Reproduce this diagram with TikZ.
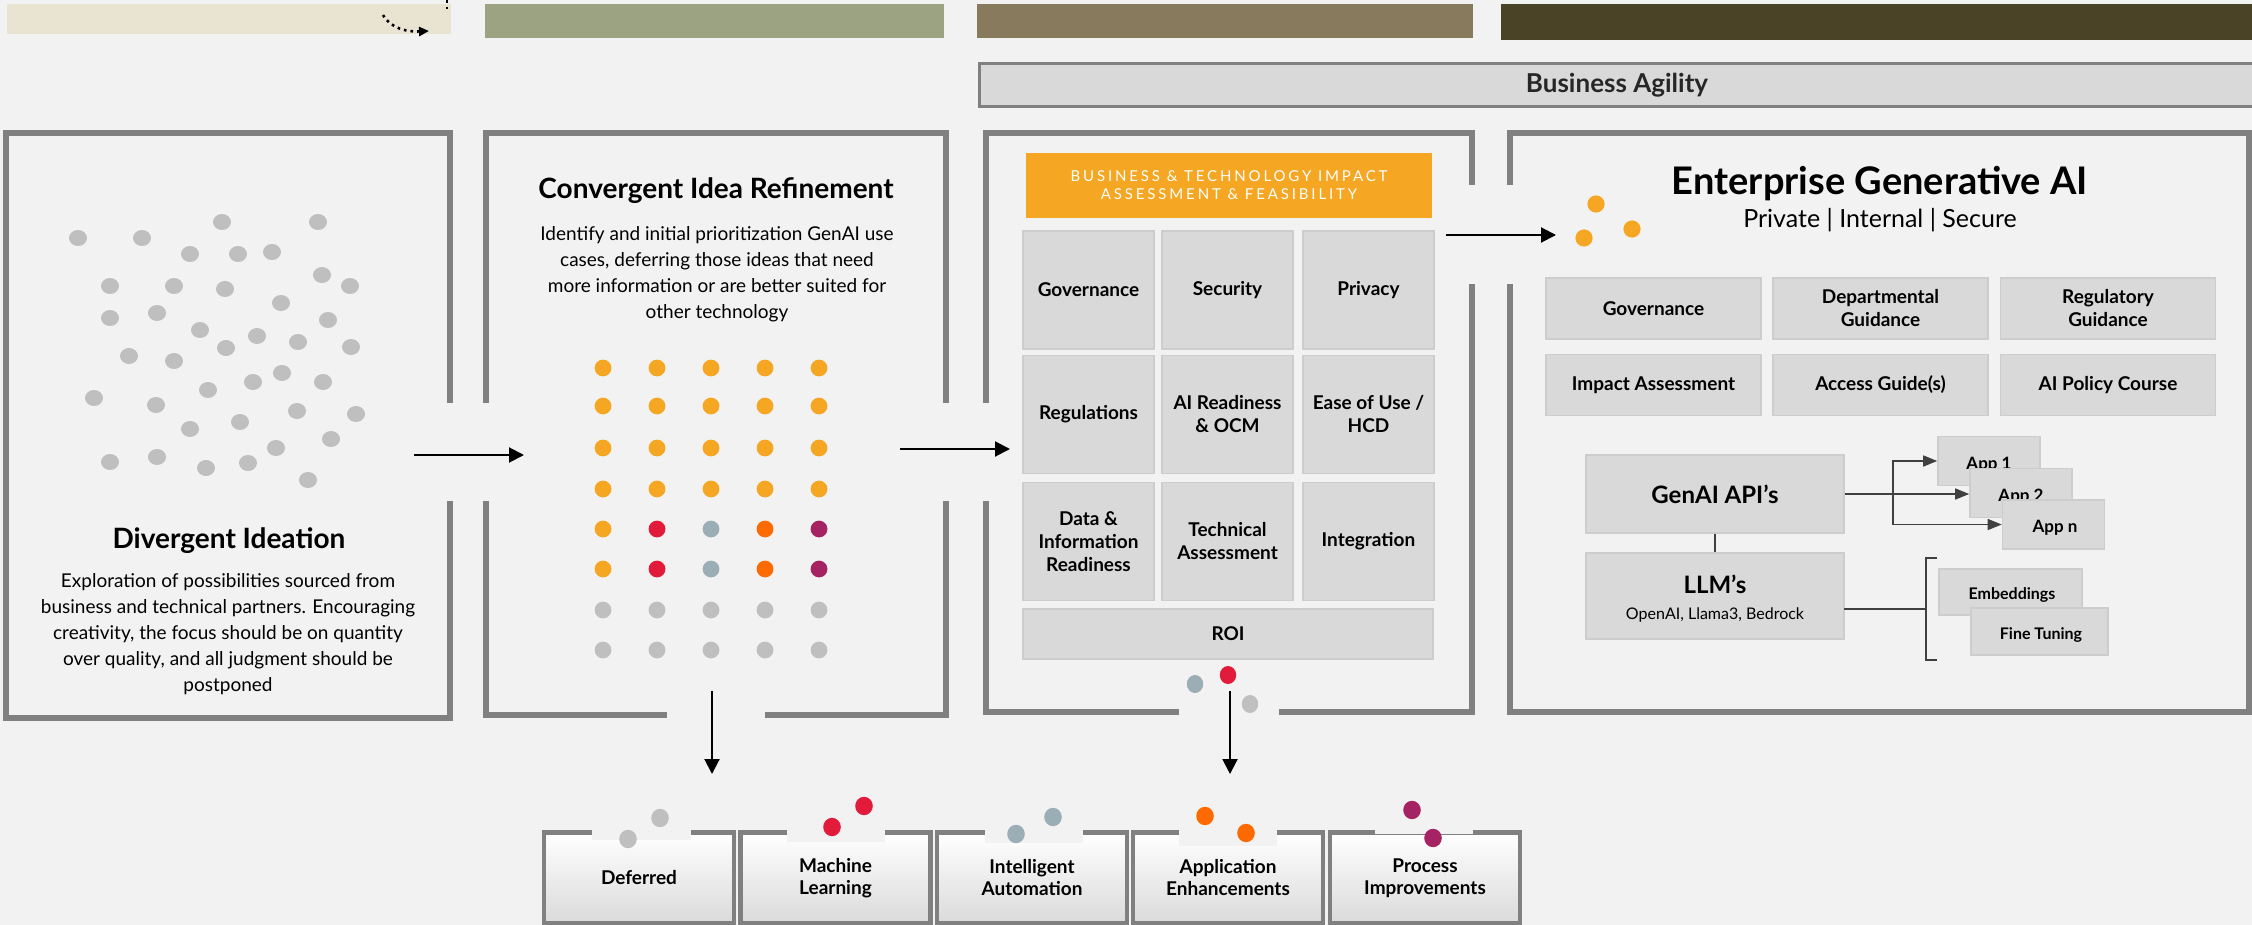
\documentclass[tikz,border=0pt]{standalone}
\usepackage{fontspec}
\setmainfont{Lato}
\usetikzlibrary{arrows.meta}

\definecolor{canvas}{HTML}{F2F2F2}
\definecolor{framegray}{HTML}{808080}
\definecolor{cellgray}{HTML}{D9D9D9}
\definecolor{celledge}{HTML}{CDCDCD}
\definecolor{amber}{HTML}{F5A623}
\definecolor{ruby}{HTML}{E31B3B}
\definecolor{slate}{HTML}{9CAEB5}
\definecolor{tangerine}{HTML}{FF6A00}
\definecolor{plum}{HTML}{A52363}
\definecolor{pebble}{HTML}{BFBFBF}
\definecolor{sand}{HTML}{E8E4D1}
\definecolor{sage}{HTML}{9CA383}
\definecolor{taupe}{HTML}{877A5D}
\definecolor{darkolive}{HTML}{4B4326}
\definecolor{bucketbase}{HTML}{DADADA}
\definecolor{inkgray}{HTML}{404040}

\newcommand\fTitle{\fontsize{14}{16}\selectfont\bfseries}
\newcommand\fBody{\fontsize{9.5}{13}\selectfont}
\newcommand\fCell{\fontsize{9.5}{11.5}\selectfont\bfseries}
\newcommand\fBucket{\fontsize{9.5}{11}\selectfont\bfseries}
\newcommand\fApp{\fontsize{8.5}{10}\selectfont\bfseries}

\tikzset{
  frameline/.style={draw=framegray, line width=2.75pt, line join=miter},
  flow/.style={line width=1pt, -{Triangle[length=7.5pt,width=7.5pt]}},
  thinflow/.style={line width=0.75pt, draw=inkgray, -{Triangle[length=7pt,width=5.5pt]}},
  link/.style={line width=0.75pt, draw=inkgray},
  cell/.style={fill=cellgray, draw=celledge, line width=0.8pt, inner sep=2pt,
    align=center, font=\fCell},
  gridcell/.style={cell, minimum width=65.5pt, minimum height=59pt},
  govcell/.style={cell, minimum width=107.5pt, minimum height=30.5pt},
  appbox/.style={cell, minimum width=51pt, minimum height=24.5pt},
  bucket/.style={draw=framegray, line width=2.2pt, top color=white,
    bottom color=bucketbase, minimum width=95pt, minimum height=45.5pt,
    align=center, font=\fBucket},
  phase/.style={inner sep=0pt, outer sep=0pt},
}

\begin{document}
\begin{tikzpicture}[x=0.5pt,y=-0.5pt]
\useasboundingbox (0,0) rectangle (2252,925);
\fill[canvas] (0,0) rectangle (2252,925);
\clip (0,0) rectangle (2252,925);

% ---------- phase bars along the top ----------
\node[phase, fill=sand, minimum width=222pt, minimum height=15pt] (phase1) at (229,19) {};
\node[phase, fill=sage, minimum width=229.5pt, minimum height=17pt] (phase2) at (714.5,21) {};
\node[phase, fill=taupe, minimum width=248pt, minimum height=17pt] (phase3) at (1225,21) {};
\node[phase, fill=darkolive, minimum width=375.5pt, minimum height=18pt] (phase4) at (1876.5,22) {};

% small dotted return arrow in the first bar
\coordinate (loopstart) at (383,15);
\coordinate (loopend) at (429,31);
\coordinate (looptop) at (447,0);
\coordinate (loopdrop) at (447,9);
\draw[dotted, line width=1.3pt, -{Triangle[length=5pt,width=4.5pt]}]
  (loopstart) .. controls (391,29) and (408,32) .. (loopend);
\draw[dotted, line width=1.3pt] (looptop) -- (loopdrop);

% ---------- business agility band ----------
\node[draw=framegray, fill=cellgray, line width=1.5pt, minimum width=638pt,
  minimum height=21.5pt, font=\fontsize{13}{15}\selectfont\bfseries,
  text=black!85] (agility) at (1617,85) {Business Agility};

% ---------- stage frames (open where the flow passes) ----------
\draw[frameline] (450,403) -- (450,133) -- (6,133) -- (6,718) -- (450,718) -- (450,501);

\draw[frameline] (486,403) -- (486,133) -- (946,133) -- (946,403);
\draw[frameline] (946,501) -- (946,715) -- (765,715);
\draw[frameline] (667,715) -- (486,715) -- (486,501);

\draw[frameline] (986,403) -- (986,133) -- (1472,133) -- (1472,185);
\draw[frameline] (1472,284) -- (1472,712) -- (1279,712);
\draw[frameline] (1179,712) -- (986,712) -- (986,501);

\draw[frameline] (1510,185) -- (1510,133) -- (2249,133) -- (2249,712) -- (1510,712) -- (1510,284);

% ---------- stage 1: divergent ideation ----------
\foreach \x/\y in {78/238, 142/238, 222/222, 318/222, 190/254, 238/254, 272/252,
  110/286, 174/286, 225/289, 322/275, 350/286, 281/303, 110/318, 157/313,
  328/320, 200/330, 257/336, 226/348, 298/342, 351/347, 129/356, 174/361,
  282/373, 253/382, 323/382, 208/390, 94/398, 156/405, 297/411, 356/414,
  240/422, 190/429, 331/439, 276/448, 110/462, 157/457, 206/468, 248/463, 308/480}
  \fill[pebble] (\x,\y) ellipse [x radius=4.5pt, y radius=4pt];

\node[font=\fTitle] (divtitle) at (229,541) {Divergent Ideation};
\node[font=\fBody, align=center] (divtext) at (228,634)
  {Exploration of possibilities sourced from\\
   business and technical partners. Encouraging\\
   creativity, the focus should be on quantity\\
   over quality, and all judgment should be\\
   postponed};

% ---------- stage 2: convergent refinement ----------
\node[font=\fTitle] (convtitle) at (716,191) {Convergent Idea Refinement};
\node[font=\fBody, align=center] (convtext) at (717,274)
  {Identify and initial prioritization GenAI use\\
   cases, deferring those ideas that need\\
   more information or are better suited for\\
   other technology};

\foreach \y in {368,406,448,489}
  \foreach \x in {603,657,711,765,819}
    \fill[amber] (\x,\y) circle [radius=4.2pt];
\foreach \y in {529,569}
  \foreach \x/\c in {603/amber,657/ruby,711/slate,765/tangerine,819/plum}
    \fill[\c] (\x,\y) circle [radius=4.2pt];
\foreach \y in {610,650}
  \foreach \x in {603,657,711,765,819}
    \fill[pebble] (\x,\y) circle [radius=4.2pt];

% ---------- stage 3: impact assessment ----------
\node[fill=amber, minimum width=203pt, minimum height=32.5pt, align=center,
  text=white, font=\fontsize{7.5}{9}\selectfont\addfontfeature{LetterSpace=19}]
  (impact) at (1229,185.5)
  {BUSINESS \& TECHNOLOGY IMPACT\\ASSESSMENT \& FEASIBILITY};

\node[gridcell] (gov)   at (1088.5,290)   {Governance};
\node[gridcell] (sec)   at (1227.5,290)   {Security};
\node[gridcell] (priv)  at (1368.5,290)   {Privacy};
\node[gridcell] (regs)  at (1088.5,414.5) {Regulations};
\node[gridcell] (ocm)   at (1227.5,414.5) {AI Readiness\\\& OCM};
\node[gridcell] (hcd)   at (1368.5,414.5) {Ease of Use /\\HCD};
\node[gridcell] (data)  at (1088.5,541.5) {Data \&\\Information\\Readiness};
\node[gridcell] (tech)  at (1227.5,541.5) {Technical\\Assessment};
\node[gridcell] (integ) at (1368.5,541.5) {Integration};
\node[cell, minimum width=205pt, minimum height=25pt] (roi) at (1228,634) {ROI};

\fill[slate] (1195,684) ellipse [x radius=4.1pt, y radius=4.5pt];
\fill[ruby]  (1228,675) ellipse [x radius=4.1pt, y radius=4.5pt];
\fill[pebble] (1250,704) ellipse [x radius=4.1pt, y radius=4.5pt];

% ---------- stage 4: enterprise generative AI ----------
\node[font=\fontsize{19}{21}\selectfont\bfseries] (egai) at (1880,184) {Enterprise Generative AI};
\node[font=\fontsize{12.5}{14}\selectfont] (egsub) at (1880,220) {Private | Internal | Secure};

\fill[amber] (1596,204) circle [radius=4.3pt];
\fill[amber] (1584,238) circle [radius=4.3pt];
\fill[amber] (1632,229) circle [radius=4.3pt];

\node[govcell] (egov)   at (1653.5,308.5) {Governance};
\node[govcell] (dept)   at (1880.5,308.5) {Departmental\\Guidance};
\node[govcell] (regg)   at (2108,308.5)   {Regulatory\\Guidance};
\node[govcell] (impa)   at (1653.5,385)   {Impact Assessment};
\node[govcell] (access) at (1880.5,385)   {Access Guide(s)};
\node[govcell] (policy) at (2108,385)     {AI Policy Course};

\node[cell, minimum width=129pt, minimum height=39pt, font=\fontsize{12}{14}\selectfont\bfseries]
  (genai) at (1715,494) {GenAI API’s};
\node[cell, minimum width=129pt, minimum height=43pt] (llm) at (1715,596) {};
\node[align=center, inner sep=0pt] (llmtext) at (1715,599)
  {{\fontsize{12}{12}\selectfont\bfseries LLM’s}\\[1pt]
   {\fontsize{8}{10}\selectfont OpenAI, Llama3, Bedrock}};
\draw[link] (genai.south) -- (llm.north);

\node[appbox] (app1) at (1989,461) {};
\node[font=\fApp] (app1t) at (1989,465) {App 1};
\node[appbox] (app2) at (2021,493) {};
\node[font=\fApp] (app2t) at (2021,497) {App 2};
\node[appbox] (appn) at (2053.5,524.5) {};
\node[font=\fApp] (appnt) at (2055,528) {App n};

\coordinate (fork) at (1893,494);
\draw[thinflow] (genai.east) -- (genai.east -| app2.west);
\draw[thinflow] (fork) |- (app1.west);
\draw[thinflow] (fork) |- (appn.west);

\node[cell, minimum width=71.5pt, minimum height=23pt] (embed) at (2010.5,592) {};
\node[font=\fontsize{8}{10}\selectfont\bfseries] (embedt) at (2012,595) {Embeddings};
\node[cell, minimum width=68.5pt, minimum height=23.5pt] (tune) at (2039.5,631.5) {};
\node[font=\fontsize{8}{10}\selectfont\bfseries] (tunet) at (2041,635) {Fine Tuning};

\coordinate (llmtap) at (1844,609);
\coordinate (bracemid) at (1926,609);
\coordinate (bracetop) at (1926,558);
\coordinate (bracebot) at (1926,660);
\coordinate (bracetopend) at (1937,558);
\coordinate (bracebotend) at (1937,660);
\draw[link] (llmtap) -- (bracemid);
\draw[link] (bracetopend) -- (bracetop) -- (bracebot) -- (bracebotend);

% ---------- flow between stages ----------
\coordinate (f1out) at (414,455);
\coordinate (f2in) at (524,455);
\coordinate (f2out) at (900,449);
\coordinate (f3in) at (1010,449);
\coordinate (f3out) at (1446,235);
\coordinate (f4in) at (1556,235);
\coordinate (f2drop) at (712,691);
\coordinate (f2land) at (712,774);
\coordinate (f3drop) at (1230,691);
\coordinate (f3land) at (1230,774);
\draw[flow] (f1out) -- (f2in);
\draw[flow] (f2out) -- (f3in);
\draw[flow] (f3out) -- (f4in);
\draw[flow] (f2drop) -- (f2land);
\draw[flow] (f3drop) -- (f3land);

% ---------- outcome buckets ----------
\node[bucket] (deferred) at (639,878)    {Deferred};
\node[bucket] (ml)       at (835.5,878)  {Machine\\Learning};
\node[bucket] (ia)       at (1032,878)   {Intelligent\\Automation};
\node[bucket] (ae)       at (1228,878)   {Application\\Enhancements};
\node[bucket] (pi)       at (1425,878)   {Process\\Improvements};

\fill[canvas] (592,826) rectangle (691,840);
\fill[canvas] (787,826) rectangle (885,842);
\fill[canvas] (985,826) rectangle (1083,843);
\fill[canvas] (1179,826) rectangle (1277,846);
\fill[canvas] (1375,826) rectangle (1473,834);

\fill[pebble] (660,818) ellipse [x radius=4.4pt, y radius=4.6pt];
\fill[pebble] (628,839) ellipse [x radius=4.4pt, y radius=4.6pt];
\fill[ruby] (864,806) ellipse [x radius=4.4pt, y radius=4.6pt];
\fill[ruby] (832,827) ellipse [x radius=4.4pt, y radius=4.6pt];
\fill[slate] (1053,817) ellipse [x radius=4.4pt, y radius=4.6pt];
\fill[slate] (1016,834) ellipse [x radius=4.4pt, y radius=4.6pt];
\fill[tangerine] (1205,816) ellipse [x radius=4.4pt, y radius=4.6pt];
\fill[tangerine] (1246,833) ellipse [x radius=4.4pt, y radius=4.6pt];
\fill[plum] (1412,810) ellipse [x radius=4.4pt, y radius=4.6pt];
\fill[plum] (1433,838) ellipse [x radius=4.4pt, y radius=4.6pt];

\end{tikzpicture}
\end{document}
